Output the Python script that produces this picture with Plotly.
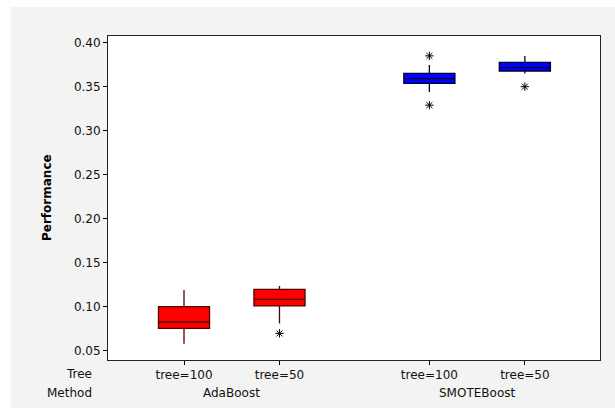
import plotly.graph_objects as go

# ---- data ----
methods = ["AdaBoost", "AdaBoost", "SMOTEBoost", "SMOTEBoost"]
trees = ["tree=100", "tree=50", "tree=100", "tree=50"]
lower_whisker = [0.058, 0.081, 0.344, 0.365]
q1 = [0.0754, 0.1008, 0.3538, 0.3678]
median = [0.0826, 0.1084, 0.3591, 0.3716]
q3 = [0.1000, 0.1197, 0.3652, 0.3777]
upper_whisker = [0.119, 0.1235, 0.3747, 0.3849]
outliers = [[], [0.0697], [0.385, 0.329], [0.350]]
y_ticks = [0.05, 0.10, 0.15, 0.20, 0.25, 0.30, 0.35, 0.40]

# ---- styling ----
FONT = "DejaVu Sans"
W, H = 615, 412
L, R, T, B = 108, 15, 36, 52
fill = {"AdaBoost": "#ff0000", "SMOTEBoost": "#0000ff"}
edge = {"AdaBoost": "#500000", "SMOTEBoost": "#000030"}

# positions: groups separated by an extra gap
group_order = []
for m in methods:
    if m not in group_order:
        group_order.append(m)
positions = []
gap = 0.57
for i, m in enumerate(methods):
    positions.append(i + 1 + group_order.index(m) * gap)

fig = go.Figure()
for i in range(len(methods)):
    m = methods[i]
    fig.add_trace(go.Box(
        x=[positions[i]], q1=[q1[i]], median=[median[i]], q3=[q3[i]],
        lowerfence=[lower_whisker[i]], upperfence=[upper_whisker[i]],
        width=0.535, whiskerwidth=0,
        fillcolor=fill[m], line=dict(color=edge[m], width=1.3),
        showlegend=False, hoverinfo="skip",
    ))
    if outliers[i]:
        fig.add_trace(go.Scatter(
            x=[positions[i]] * len(outliers[i]), y=outliers[i], mode="markers",
            marker=dict(symbol="asterisk-open", size=7, color="#000",
                        line=dict(color="#000", width=1)),
            showlegend=False, hoverinfo="skip",
        ))

pw = W - L - R
ph = H - T - B
def px_x(px):
    return (px - L) / pw
def px_y(py):
    return (H - B - py) / ph

shapes = [
    dict(type="rect", xref="paper", yref="paper", layer="below",
         x0=px_x(11), x1=px_x(616), y0=px_y(408), y1=px_y(7),
         fillcolor="#f3f3f3", line=dict(width=0)),
    dict(type="rect", xref="paper", yref="paper", layer="below",
         x0=0, x1=1, y0=0, y1=1, fillcolor="#ffffff", line=dict(width=0)),
]

annotations = [
    dict(text="<b>Performance</b>", xref="paper", yref="paper",
         x=px_x(38), y=0.5, textangle=-90, showarrow=False,
         font=dict(family=FONT, size=12, color="#000")),
    dict(text="Tree", xref="paper", yref="paper", x=px_x(94), y=px_y(374),
         xanchor="right", yanchor="middle", showarrow=False,
         font=dict(family=FONT, size=12, color="#111")),
    dict(text="Method", xref="paper", yref="paper", x=px_x(94), y=px_y(393),
         xanchor="right", yanchor="middle", showarrow=False,
         font=dict(family=FONT, size=12, color="#111")),
]
for g in group_order:
    ps = [positions[i] for i in range(len(methods)) if methods[i] == g]
    annotations.append(dict(
        text=g, x=sum(ps) / len(ps), xref="x", yref="paper", y=px_y(393),
        xanchor="center", yanchor="middle", showarrow=False,
        font=dict(family=FONT, size=12, color="#111")))

fig.update_layout(
    width=W, height=H,
    margin=dict(l=L, r=R, t=T, b=B, pad=0),
    paper_bgcolor="#ffffff", plot_bgcolor="rgba(0,0,0,0)",
    font=dict(family=FONT, size=12, color="#111"),
    shapes=shapes, annotations=annotations,
    xaxis=dict(range=[0.204, 5.357], tickvals=positions, ticktext=trees,
               ticks="outside", ticklen=4, tickcolor="#000",
               showline=True, linecolor="#222", linewidth=1, mirror=True,
               showgrid=False, zeroline=False, fixedrange=True,
               tickfont=dict(family=FONT, size=12, color="#111")),
    yaxis=dict(range=[0.0394, 0.4076], tickvals=y_ticks, tickformat=".2f",
               ticks="outside", ticklen=4, tickcolor="#000",
               showline=True, linecolor="#222", linewidth=1, mirror=True,
               showgrid=False, zeroline=False, fixedrange=True,
               tickfont=dict(family=FONT, size=12, color="#111")),
)

fig.write_html(
    "out.html",
    config={"displayModeBar": False},
    post_script="document.body.style.margin='0';document.body.style.overflow='hidden';",
)
